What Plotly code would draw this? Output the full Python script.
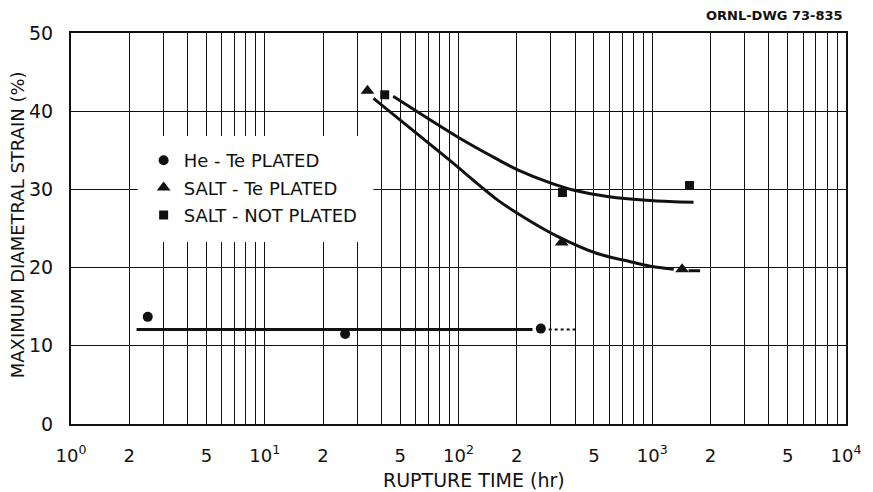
import plotly.graph_objects as go

# Measured specimens: rupture time (hr) vs. maximum diametral strain (%)
he_te_time = [2.49, 26.0, 266]
he_te_strain = [13.7, 11.5, 12.2]

salt_te_time = [33.9, 341, 1426]
salt_te_strain = [42.6, 23.2, 19.8]

salt_np_time = [41.6, 344, 1557]
salt_np_strain = [42.1, 29.6, 30.5]

# Hand-drawn trend curves
he_fit_time = [2.18, 241]
he_fit_strain = [12.1, 12.1]
he_ext_time = [292, 401]
he_ext_strain = [12.1, 12.1]

te_fit_time = [36.4, 88.3, 160, 236, 324, 520, 771, 1016, 1290]
te_fit_strain = [41.65, 33.9, 28.6, 25.9, 24.0, 21.8, 20.75, 20.1, 19.8]
te_ext_time = [1540, 1766]
te_ext_strain = [19.6, 19.6]

np_fit_time = [46, 99, 160, 202, 300, 395, 586, 1016, 1633]
np_fit_strain = [41.9, 36.7, 33.8, 32.5, 30.8, 29.9, 29.1, 28.55, 28.35]

# Axis ticks
x_tickvals = [1, 2, 5, 10, 20, 50, 100, 200, 500, 1000, 2000, 5000, 10000]
x_ticktext = ["10<sup>0</sup>", "2", "5", "10<sup>1</sup>", "2", "5",
              "10<sup>2</sup>", "2", "5", "10<sup>3</sup>", "2", "5", "10<sup>4</sup>"]
y_tickvals = [0, 10, 20, 30, 40, 50]

FONT = "DejaVu Sans"
INK = "#111111"

fig = go.Figure()

curve = dict(color=INK, width=3)
fig.add_trace(go.Scatter(x=he_fit_time, y=he_fit_strain, mode="lines",
                         line=curve, showlegend=False, hoverinfo="skip"))
fig.add_trace(go.Scatter(x=he_ext_time, y=he_ext_strain, mode="lines",
                         line=dict(color=INK, width=2, dash="dot"),
                         showlegend=False, hoverinfo="skip"))
fig.add_trace(go.Scatter(x=te_fit_time, y=te_fit_strain, mode="lines",
                         line=dict(shape="spline", smoothing=0.8, **curve),
                         showlegend=False, hoverinfo="skip"))
fig.add_trace(go.Scatter(x=te_ext_time, y=te_ext_strain, mode="lines",
                         line=curve, showlegend=False, hoverinfo="skip"))
fig.add_trace(go.Scatter(x=np_fit_time, y=np_fit_strain, mode="lines",
                         line=dict(shape="spline", smoothing=0.8, **curve),
                         showlegend=False, hoverinfo="skip"))

fig.add_trace(go.Scatter(x=he_te_time, y=he_te_strain, mode="markers",
                         name="He - Te PLATED", legendgroup="a",
                         marker=dict(symbol="circle", size=10, color=INK)))
fig.add_trace(go.Scatter(x=salt_te_time, y=salt_te_strain, mode="markers",
                         name="SALT - Te PLATED", legendgroup="b",
                         marker=dict(symbol="triangle-up", size=12, color=INK)))
fig.add_trace(go.Scatter(x=salt_np_time, y=salt_np_strain, mode="markers",
                         name="SALT - NOT PLATED", legendgroup="c",
                         marker=dict(symbol="square", size=9, color=INK)))

# plot area in pixels: left 71, right 850, top 33, bottom 424
L, R, T, B = 71, 850, 33, 424
W, H = 873, 492


def px(x):
    return (x - L) / (R - L)


def py(y):
    return (B - y) / (B - T)


# blank panel behind the key
fig.add_shape(type="rect", xref="paper", yref="paper",
              x0=px(138), x1=px(375), y0=py(242), y1=py(136),
              fillcolor="white", line=dict(width=0), layer="above")

fig.update_layout(
    width=W, height=H,
    margin=dict(l=L, r=W - R, t=T, b=H - B),
    paper_bgcolor="white", plot_bgcolor="white",
    font=dict(family=FONT, color=INK, size=17),
    showlegend=True,
    legend=dict(x=px(144), y=py(142), xanchor="left", yanchor="top",
                xref="paper", yref="paper",
                bgcolor="rgba(0,0,0,0)", borderwidth=0,
                tracegroupgap=1, traceorder="grouped",
                font=dict(family=FONT, size=18, color=INK)),
    xaxis=dict(type="log", range=[0, 4],
               tickmode="array", tickvals=x_tickvals, ticktext=x_ticktext,
               ticks="", ticklabelstandoff=14,
               showgrid=True, gridcolor=INK, gridwidth=1.3,
               minor=dict(dtick="D1", showgrid=True, gridcolor=INK, gridwidth=1.3),
               showline=True, linecolor=INK, linewidth=2, mirror=True,
               zeroline=False, tickfont=dict(size=18)),
    yaxis=dict(range=[0, 50], tickmode="array", tickvals=y_tickvals,
               ticks="", ticklabelstandoff=12,
               showgrid=True, gridcolor=INK, gridwidth=1.3,
               showline=True, linecolor=INK, linewidth=2, mirror=True,
               zeroline=False, tickfont=dict(size=19)),
    annotations=[
        dict(text="RUPTURE TIME (hr)", xref="paper", yref="paper",
             x=px(476), y=py(480), xanchor="center", yanchor="middle",
             showarrow=False, font=dict(size=19)),
        dict(text="MAXIMUM DIAMETRAL STRAIN (%)", xref="paper", yref="paper",
             x=px(17), y=py(225), xanchor="center", yanchor="middle",
             textangle=-90, showarrow=False, font=dict(size=18)),
        dict(text="<b>ORNL-DWG 73-835</b>", xref="paper", yref="paper",
             x=px(849), y=py(15), xanchor="right", yanchor="middle",
             showarrow=False, font=dict(size=13)),
    ],
)

fig.write_html("out.html")
